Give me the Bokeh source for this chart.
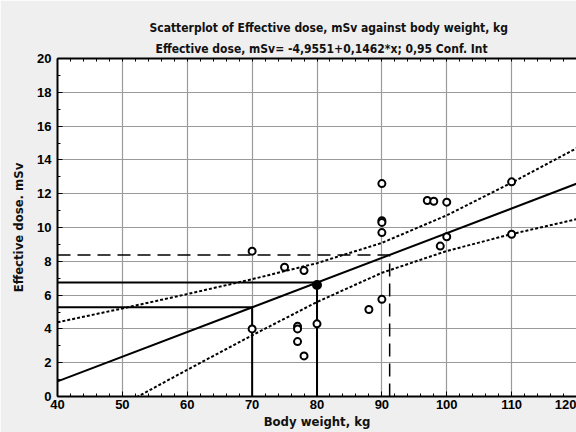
from bokeh.plotting import figure
from bokeh.models import Range1d, LinearAxis, Title, FixedTicker
from bokeh.embed import file_html
from bokeh.resources import INLINE

# Observations: body weight (kg) and effective dose (mSv)
weight = [70, 70, 75, 77, 77, 77, 78, 78, 80, 88, 90, 90, 90, 90, 90,
          97, 98, 99, 100, 100, 110, 110]
dose = [8.6, 4.0, 7.65, 4.15, 4.0, 3.25, 7.45, 2.4, 4.3, 5.15, 12.6, 10.4,
        10.3, 9.7, 5.75, 11.6, 11.55, 8.9, 11.5, 9.45, 12.7, 9.6]

# Observation drawn as a filled marker
marked_weight = [80]
marked_dose = [6.6]

# Fitted line: dose = intercept + slope * weight
intercept = -4.9551
slope = 0.1462

# 0.95 confidence band of the fit
band_weight = [40, 50, 60, 70, 80, 90, 100, 110, 120]
band_upper = [4.39, 5.21, 6.06, 6.94, 7.89, 9.09, 10.72, 12.65, 14.69]
band_lower = [-2.61, -0.50, 1.58, 3.62, 5.59, 7.32, 8.61, 9.61, 10.49]

lookup_weights = [70, 80]
mean_weight = 91.2

x_ticks = [40, 50, 60, 70, 80, 90, 100, 110, 120]
y_ticks = [0, 2, 4, 6, 8, 10, 12, 14, 16, 18, 20]
x_minor = list(range(40, 121, 2))
y_minor = list(range(0, 21))

TITLE_FONT = "DejaVu Sans Condensed, Roboto, sans-serif"
TICK_FONT = "Liberation Sans, Arial, sans-serif"

p = figure(width=576, height=432, output_backend="svg", toolbar_location=None,
           x_range=Range1d(40, 120), y_range=Range1d(0, 20),
           x_axis_label="Body weight, kg", y_axis_label="Effective dose. mSv",
           min_border_left=57, min_border_right=0, min_border_top=58,
           min_border_bottom=36)
p.title = None
p.background_fill_color = "white"
p.border_fill_color = "#efefef"
p.outline_line_color = None

bottom_axis = p.below[0]
left_axis = p.left[0]

sub = Title(text="Effective dose, mSv= -4,9551+0,1462*x; 0,95 Conf. Int",
            align="left", offset=98, text_font=TITLE_FONT,
            text_font_size="12px", text_font_style="bold",
            text_color="#111111", standoff=6)
main = Title(text="Scatterplot of Effective dose, mSv against body weight, kg",
             align="left", offset=92, text_font=TITLE_FONT,
             text_font_size="12px", text_font_style="bold",
             text_color="#111111", standoff=4)

# Frame top edge: tick marks only, no labels
top_axis = LinearAxis(ticker=FixedTicker(ticks=[], minor_ticks=x_minor),
                      axis_line_width=2, major_tick_in=0, major_tick_out=0,
                      minor_tick_in=3, minor_tick_out=0, major_label_standoff=0)
p.add_layout(top_axis, "above")
p.add_layout(sub, "above")
p.add_layout(main, "above")

bottom_axis.ticker = FixedTicker(ticks=x_ticks, minor_ticks=x_minor)
left_axis.ticker = FixedTicker(ticks=y_ticks, minor_ticks=y_minor)

for ax in (bottom_axis, left_axis):
    ax.axis_line_width = 2
    ax.axis_line_color = "black"
    ax.major_tick_in = 5
    ax.major_tick_out = 0
    ax.minor_tick_in = 3
    ax.minor_tick_out = 0
    ax.major_label_text_font = TICK_FONT
    ax.major_label_text_font_style = "bold"
    ax.major_label_text_font_size = "13px"
    ax.major_label_text_color = "black"
    ax.axis_label_text_font = TITLE_FONT
    ax.axis_label_text_font_style = "bold"
    ax.axis_label_text_color = "#111111"
    ax.axis_label_text_font_size = "13px"
    ax.major_label_standoff = 3
    ax.axis_label_standoff = 2

left_axis.major_label_orientation = "horizontal"
left_axis.major_label_standoff = 6
left_axis.axis_label_standoff = 8

p.grid.grid_line_color = "#9a9a9a"
p.grid.grid_line_width = 1.2
p.xgrid.ticker = FixedTicker(ticks=x_ticks)
p.ygrid.ticker = FixedTicker(ticks=y_ticks)

# Reading lines from the axes to the fitted line
for w in lookup_weights:
    d = intercept + slope * w
    p.line([40, w], [d, d], line_color="black", line_width=2)
    p.line([w, w], [0, d], line_color="black", line_width=2)

mean_dose = intercept + slope * mean_weight
p.line([40, mean_weight], [mean_dose, mean_dose], line_color="black",
       line_width=1.5, line_dash="13 7")
p.line([mean_weight, mean_weight], [0, mean_dose], line_color="black",
       line_width=1.5, line_dash="13 7")

# Confidence band and fitted line
p.line(band_weight, band_upper, line_color="black", line_width=2, line_dash="3 2")
p.line(band_weight, band_lower, line_color="black", line_width=2, line_dash="3 2")
p.line([40, 120], [intercept + slope * 40, intercept + slope * 120],
       line_color="black", line_width=2)

p.scatter(weight, dose, marker="circle", size=7, line_color="black",
          line_width=2, fill_color="white")
p.scatter(marked_weight, marked_dose, marker="circle", size=8,
          line_color="black", line_width=2, fill_color="black")

open("out.html", "w").write(file_html(p, INLINE))
